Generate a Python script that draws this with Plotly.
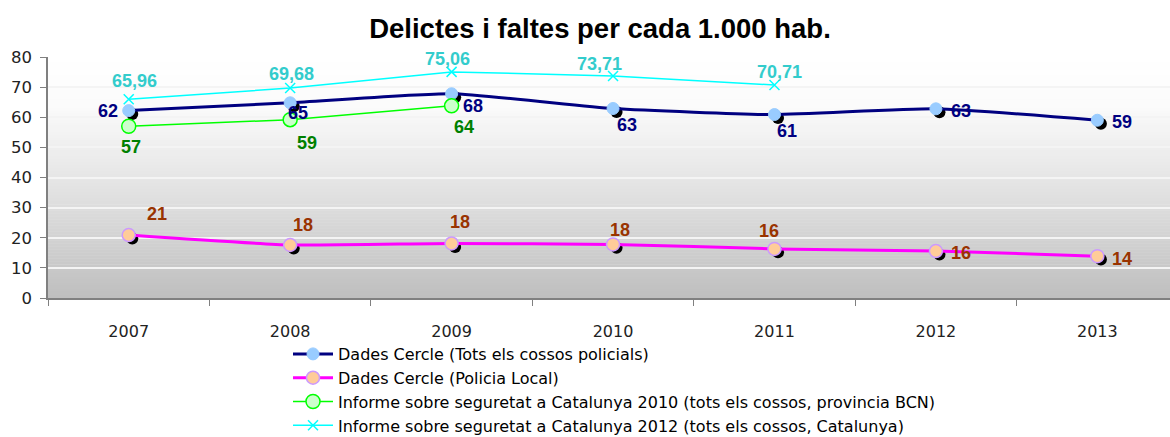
import plotly.graph_objects as go

# ---------------- data ----------------
years = ["2007", "2008", "2009", "2010", "2011", "2012", "2013"]
cercle_tots = [62.2, 64.8, 67.8, 62.9, 60.9, 62.8, 59.0]
cercle_local = [20.9, 17.6, 18.1, 17.8, 16.3, 15.6, 13.9]
informe_2010 = [57.0, 59.2, 63.8]
informe_2012 = [65.96, 69.68, 75.06, 73.71, 70.71]

names = [
    "Dades Cercle (Tots els cossos policials)",
    "Dades Cercle (Policia Local)",
    "Informe sobre seguretat a Catalunya 2010 (tots els cossos, provincia BCN)",
    "Informe sobre seguretat a Catalunya 2012 (tots els cossos, Catalunya)",
]
title_text = "Delictes i faltes per cada 1.000 hab."
y_ticks = [0, 10, 20, 30, 40, 50, 60, 70, 80]

# ---------------- styles ----------------
NAVY = "#000080"
MAGENTA = "#FF00FF"
GREEN = "#00FF00"
CYAN = "#00FFFF"
LBL_NAVY = "#000080"
LBL_BROWN = "#993300"
LBL_GREEN = "#008000"
LBL_CYAN = "#33CCCC"

# label pixel offsets (xshift, yshift) per point
off_tots = [(-21, 0), (8, -10), (21, -12), (14, -16), (13, -16), (25, -2), (25, -2)]
off_local = [(28, 21), (13, 20), (8, 21), (7, 14), (-5, 18), (25, -2), (25, -3)]
off_2010 = [(2, -21), (17, -23), (12, -21)]
off_2012 = [(6, 18), (1, 14), (-4, 13), (-14, 12), (5, 13)]

xi = list(range(len(years)))
SHX, SHY = 0.022, 1.15  # marker shadow offset (data units)

W, H = 1170, 437
M_L, M_T, M_B = 48, 57, 0
PLOT_BOTTOM = 298
paper_h = H - M_T - M_B
y_dom0 = (H - M_B - PLOT_BOTTOM) / paper_h

fig = go.Figure()

# marker shadows
for vals in (cercle_tots, cercle_local):
    fig.add_trace(go.Scatter(
        x=[i + SHX for i in xi[:len(vals)]], y=[v - SHY for v in vals],
        mode="markers", marker=dict(size=12, color="black"),
        showlegend=False, hoverinfo="skip"))

fig.add_trace(go.Scatter(
    x=xi, y=cercle_tots, name=names[0], mode="lines+markers",
    line=dict(color=NAVY, width=3, shape="spline", smoothing=0.5),
    marker=dict(size=12, color="#99CCFF", line=dict(color="#99CCFF", width=1))))
fig.add_trace(go.Scatter(
    x=xi, y=cercle_local, name=names[1], mode="lines+markers",
    line=dict(color=MAGENTA, width=3, shape="spline", smoothing=0.5),
    marker=dict(size=13, color="#FFCC99", line=dict(color="#CC99FF", width=1.5))))
fig.add_trace(go.Scatter(
    x=xi[:len(informe_2010)], y=informe_2010, name=names[2], mode="lines+markers",
    line=dict(color=GREEN, width=1.5),
    marker=dict(size=14, color="#CCFFCC", line=dict(color=GREEN, width=1.5))))
fig.add_trace(go.Scatter(
    x=xi[:len(informe_2012)], y=informe_2012, name=names[3], mode="lines+markers",
    line=dict(color=CYAN, width=1.5),
    marker=dict(size=10, symbol="x-thin", color=CYAN, line=dict(color=CYAN, width=1.5))))

# data labels
ann = []
def add_labels(vals, offs, color, fmt):
    for i, (v, (dx, dy)) in enumerate(zip(vals, offs)):
        ann.append(dict(x=xi[i], y=v, text=fmt(v), showarrow=False,
                        xshift=dx, yshift=dy,
                        font=dict(family="Liberation Sans, Arial", size=18,
                                  color=color, weight="bold")))

add_labels(cercle_tots, off_tots, LBL_NAVY, lambda v: str(round(v)))
add_labels(cercle_local, off_local, LBL_BROWN, lambda v: str(round(v)))
add_labels(informe_2010, off_2010, LBL_GREEN, lambda v: str(round(v)))
add_labels(informe_2012, off_2012, LBL_CYAN, lambda v: f"{v:.2f}".replace(".", ","))

# gradient background as stacked strips
shapes = []
N = 80
def grey(f):  # f = 0 top .. 1 bottom
    stops = [(0.0, 255), (0.2, 251), (0.5, 230), (1.0, 191)]
    for (a, ca), (b, cb) in zip(stops, stops[1:]):
        if f <= b:
            t = (f - a) / (b - a)
            return round(ca + (cb - ca) * t)
    return stops[-1][1]
for k in range(N):
    f0 = k / N
    f1 = (k + 1) / N
    g = grey((f0 + f1) / 2)
    shapes.append(dict(type="rect", xref="x domain", yref="y domain",
                       x0=0, x1=1, y0=1 - f1, y1=1 - f0 + 0.002,
                       fillcolor=f"rgb({g},{g},{g})", line=dict(width=0),
                       layer="below"))

fig.update_layout(
    width=W, height=H,
    margin=dict(l=M_L, r=0, t=M_T, b=M_B, autoexpand=False),
    paper_bgcolor="white", plot_bgcolor="white",
    title=dict(text=title_text, x=600 / W, xanchor="center", y=1 - 28 / H,
               yanchor="middle",
               font=dict(family="Liberation Sans, Arial", size=27.5, color="black",
                         weight="bold")),
    showlegend=True,
    legend=dict(x=(288 - M_L) / (W - M_L), xanchor="left",
                y=(H - M_B - 337) / paper_h, yanchor="top",
                font=dict(family="DejaVu Sans", size=16, color="#000000"),
                bgcolor="rgba(0,0,0,0)", itemwidth=40, tracegroupgap=0),
    annotations=ann,
    shapes=shapes,
    hovermode=False,
)
fig.update_xaxes(
    range=[-0.5, 6.45], tickmode="array", tickvals=xi, ticktext=years,
    ticks="", showgrid=False, zeroline=False, automargin=False,
    showline=True, linecolor="#808080", linewidth=2,
    tickfont=dict(family="DejaVu Sans", size=16, color="#222222"),
    ticklabelstandoff=18,
    minor=dict(tickmode="array", tickvals=[i - 0.5 for i in range(len(years) + 1)],
               ticks="outside", ticklen=6, tickcolor="#808080", tickwidth=1,
               showgrid=False),
)
fig.update_yaxes(
    domain=[y_dom0, 1],
    range=[0, 80], tickmode="array", tickvals=y_ticks, automargin=False,
    ticks="outside", ticklen=6, tickcolor="#808080",
    showgrid=True, gridcolor="#F4F4F4", gridwidth=1.5, zeroline=False,
    showline=True, linecolor="#808080", linewidth=1.5,
    tickfont=dict(family="DejaVu Sans", size=16.5, color="#222222"),
    ticklabelstandoff=5,
)

fig.write_html("out.html",
               config={"displayModeBar": False},
               post_script="document.body.style.margin='0px';"
                           "document.body.style.overflow='hidden';")
